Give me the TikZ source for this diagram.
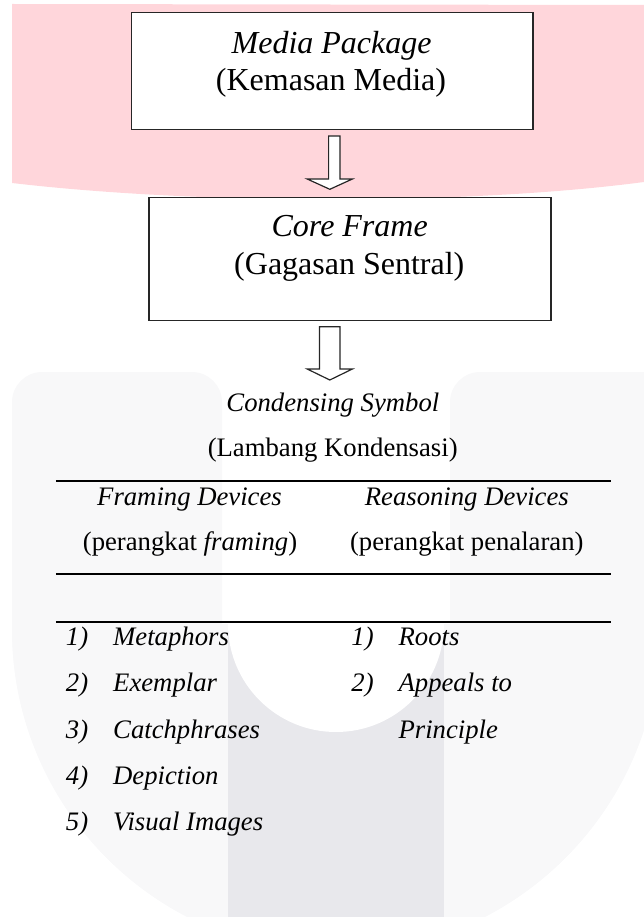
\documentclass[tikz,border=0pt]{standalone}
\usepackage{fontspec}
\setmainfont{Liberation Serif}
\definecolor{wmpink}{RGB}{255,214,219}
\definecolor{wmgray}{RGB}{248,248,249}
\definecolor{wmdark}{RGB}{232,232,236}
\begin{document}
\begin{tikzpicture}[x=1pt,y=-1pt,
  boxst/.style={draw=black!85,line width=1.3pt,fill=white,inner sep=0pt},
  bigtxt/.style={anchor=base,inner sep=0pt,font=\fontsize{32}{38}\selectfont},
  smalltxt/.style={anchor=base,inner sep=0pt,font=\fontsize{26.7}{32}\selectfont},
  itemtxt/.style={anchor=base west,inner sep=0pt,font=\fontsize{26.7}{32}\selectfont\itshape},
  rulest/.style={line width=2pt},
  blockarrow/.style={draw=black!85,line width=1.2pt,fill=white,line join=miter}]
\useasboundingbox (0,0) rectangle (644,917);
% watermark
\fill[wmpink] (12,4) -- (644,5) -- (644,182) .. controls (470,205) and (200,205) .. (12,183) -- cycle;
\begin{scope}
  \clip (12,0) -- (12,629) arc[start angle=180,end angle=0,radius=324] -- (660,0) -- cycle;
  \fill[wmgray,rounded corners=30pt] (12,372) rectangle (222,1000);
  \fill[wmgray,rounded corners=30pt] (450,372) rectangle (700,1000);
  \fill[wmgray] (12,624) rectangle (700,1000);
  \fill[wmdark] (228,624) rectangle (444,1000);
  \fill[white] (336,624) circle[radius=108];
\end{scope}
% boxes
\node[boxst, minimum width=401.7pt, minimum height=116.6pt] (mp) at (332.2,71) {};
\node[bigtxt] (mpa) at (331.6,53.3) {\itshape Media Package};
\node[bigtxt] (mpb) at (331,90.7) {(Kemasan Media)};
\node[boxst, minimum width=402pt, minimum height=123.4pt] (cf) at (350.1,259) {};
\node[bigtxt] (cfa) at (349.7,236.7) {\itshape Core Frame};
\node[bigtxt] (cfb) at (349.3,274) {(Gagasan Sentral)};
% block arrows
\draw[blockarrow] (328.6,136) -- (340,136) -- (340,179) -- (352.4,179) -- (329.8,189.3) -- (307.2,179) -- (328.6,179) -- cycle;
\draw[blockarrow] (319.5,326.7) -- (340,326.7) -- (340,369) -- (352.4,369) -- (329.8,380) -- (307.2,369) -- (319.5,369) -- cycle;
% condensing symbol
\node[smalltxt] (cs) at (332.9,411.7) {\itshape Condensing Symbol};
\node[smalltxt] (lk) at (332.7,456.5) {(Lambang Kondensasi)};
\coordinate (r1a) at (55.9,481);  \coordinate (r1b) at (611.1,481);
\coordinate (r2a) at (55.9,574);  \coordinate (r2b) at (611.1,574);
\coordinate (r3a) at (55.9,622);  \coordinate (r3b) at (611.1,622);
\draw[rulest] (r1a) -- (r1b);
\draw[rulest] (r2a) -- (r2b);
\draw[rulest] (r3a) -- (r3b);
\node[smalltxt] (fd) at (189.5,505) {\itshape Framing Devices};
\node[smalltxt] (fp) at (190,550) {(perangkat \textit{framing})};
\node[smalltxt] (rd) at (466.8,505) {\itshape Reasoning Devices};
\node[smalltxt] (rp) at (466.8,550) {(perangkat penalaran)};
% lists
\node[itemtxt] (n1) at (65.7,645) {1)};   \node[itemtxt] (l1) at (113,645) {Metaphors};
\node[itemtxt] (n2) at (65.7,691.7) {2)}; \node[itemtxt] (l2) at (113,691.7) {Exemplar};
\node[itemtxt] (n3) at (65.7,738.3) {3)}; \node[itemtxt] (l3) at (113,738.3) {Catchphrases};
\node[itemtxt] (n4) at (65.7,784.3) {4)}; \node[itemtxt] (l4) at (113,784.3) {Depiction};
\node[itemtxt] (n5) at (65.7,830) {5)};   \node[itemtxt] (l5) at (113,830) {Visual Images};
\node[itemtxt] (m1) at (351.2,645) {1)};   \node[itemtxt] (k1) at (398.4,645) {Roots};
\node[itemtxt] (m2) at (351.2,691.7) {2)}; \node[itemtxt] (k2) at (398.4,691.7) {Appeals to};
\node[itemtxt] (k3) at (398.4,738.3) {Principle};
\end{tikzpicture}
\end{document}
